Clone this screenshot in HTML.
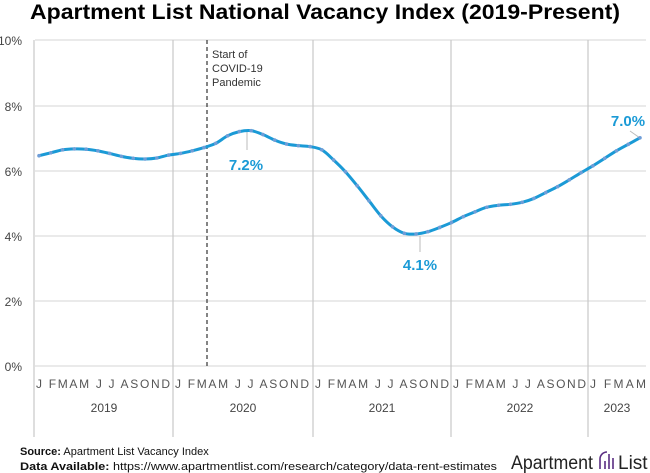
<!DOCTYPE html>
<html><head><meta charset="utf-8"><style>
body{margin:0;background:#fff;width:650px;height:473px;overflow:hidden}
svg{display:block}
text{font-family:"Liberation Sans",sans-serif}
</style></head><body>
<svg width="650" height="473" viewBox="0 0 650 473">
<text x="30" y="19" font-size="21" font-weight="bold" fill="#000" textLength="590" lengthAdjust="spacingAndGlyphs">Apartment List National Vacancy Index (2019-Present)</text>
<g stroke="#ddd" stroke-width="1.2">
<line x1="35" y1="40" x2="646" y2="40"/>
<line x1="35" y1="106" x2="646" y2="106"/>
<line x1="35" y1="171" x2="646" y2="171"/>
<line x1="35" y1="236" x2="646" y2="236"/>
<line x1="35" y1="301" x2="646" y2="301"/>
<line x1="35" y1="366" x2="646" y2="366"/>
</g>
<g stroke="#c8c8c8" stroke-width="1.2">
<line x1="34" y1="40" x2="34" y2="437"/>
<line x1="173" y1="40" x2="173" y2="437"/>
<line x1="451" y1="40" x2="451" y2="437"/>
<line x1="313" y1="40" x2="313" y2="437"/>
<line x1="588" y1="40" x2="588" y2="437"/>
</g>
<line x1="207" y1="40" x2="207" y2="366" stroke="#333" stroke-width="1.2" stroke-dasharray="4,3"/>
<g font-size="11" fill="#333">
<text x="212" y="58">Start of</text>
<text x="212" y="72">COVID-19</text>
<text x="212" y="86">Pandemic</text>
</g>
<g font-size="12" fill="#444" text-anchor="end">
<text x="22" y="45">10%</text><text x="22" y="111">8%</text><text x="22" y="176">6%</text>
<text x="22" y="241">4%</text><text x="22" y="306">2%</text><text x="22" y="371">0%</text>
</g>
<g font-size="12" fill="#555">
<text x="36" y="388" textLength="134" lengthAdjust="spacing">J FMAM J J ASOND</text>
<text x="175" y="388" textLength="134" lengthAdjust="spacing">J FMAM J J ASOND</text>
<text x="315" y="388" textLength="134" lengthAdjust="spacing">J FMAM J J ASOND</text>
<text x="453" y="388" textLength="133" lengthAdjust="spacing">J FMAM J J ASOND</text>
<text x="590" y="388" textLength="56" lengthAdjust="spacing">J FMAM</text>
</g>
<g font-size="12" fill="#444" text-anchor="middle">
<text x="104" y="412">2019</text><text x="243" y="412">2020</text><text x="382" y="412">2021</text><text x="520" y="412">2022</text><text x="617" y="412">2023</text>
</g>
<g stroke="#bbb" stroke-width="1">
<line x1="247" y1="132" x2="247" y2="150"/>
<line x1="420" y1="236" x2="420" y2="252"/>
<line x1="630" y1="131" x2="640" y2="138"/>
</g>
<g id="s"></g>
<g font-size="15" font-weight="bold" fill="#1a9ad6" text-anchor="middle">
<text x="246" y="170">7.2%</text>
<text x="420" y="270">4.1%</text>
<text x="628" y="126">7.0%</text>
</g>
<text x="20" y="455" font-size="11" fill="#111"><tspan font-weight="bold">Source:</tspan> Apartment List Vacancy Index</text>
<text x="20" y="470" font-size="11" fill="#111" textLength="477" lengthAdjust="spacingAndGlyphs"><tspan font-weight="bold">Data Available:</tspan> https://www.apartmentlist.com/research/category/data-rent-estimates</text>
<text x="511" y="469" font-size="19" fill="#222" textLength="82" lengthAdjust="spacingAndGlyphs">Apartment</text>
<g stroke="#5a2d82" stroke-width="1.6" fill="none"><path d="M600 469 v-10 a7 7 0 0 1 7 -7 M605 469 v-8 M609 469 v-15 M613 469 v-11"/></g>
<text x="618" y="469" font-size="19" fill="#222">List</text>
</svg>
<script>
var v=[6.45,6.54,6.63,6.66,6.65,6.6,6.52,6.43,6.37,6.35,6.38,6.47,6.52,6.6,6.70,6.83,7.06,7.19,7.22,7.10,6.93,6.81,6.76,6.73,6.63,6.32,5.96,5.53,5.07,4.61,4.27,4.07,4.05,4.12,4.25,4.40,4.58,4.73,4.87,4.93,4.96,5.02,5.14,5.32,5.50,5.71,5.93,6.14,6.37,6.60,6.80,7.00];
var p=v.map(function(y,i){return [39+i*601/51,366-y*32.6]});
var d="M"+p[0][0]+" "+p[0][1];
for(var i=0;i<p.length-1;i++){var a=p[i-1]||p[i],b=p[i],c=p[i+1],e=p[i+2]||c;
d+=" C"+(b[0]+(c[0]-a[0])/6)+" "+(b[1]+(c[1]-a[1])/6)+" "+(c[0]-(e[0]-b[0])/6)+" "+(c[1]-(e[1]-b[1])/6)+" "+c[0]+" "+c[1];}
var s='<path d="'+d+'" fill="none" stroke="#1a9ad6" stroke-width="3"/>';
p.forEach(function(q){s+='<circle cx="'+q[0]+'" cy="'+q[1]+'" r="1.8" fill="#6f9ed8"/>'});
document.getElementById("s").innerHTML=s;
</script>
</body></html>
